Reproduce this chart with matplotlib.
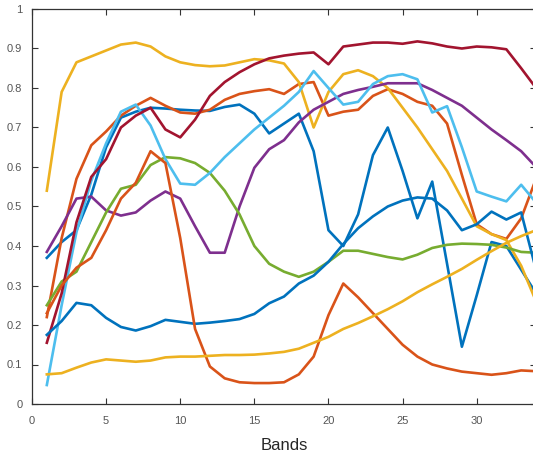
"""Spectral curves per band, MATLAB-style line plot."""

import matplotlib
matplotlib.use("Agg")
import matplotlib.pyplot as plt
import numpy as np

# ---------------------------------------------------------------------------
# Data
# ---------------------------------------------------------------------------

bands = list(range(1, 35))

blue_a = [0.37, 0.41, 0.44, 0.53, 0.65, 0.725, 0.74, 0.75, 0.748, 0.745,
          0.743, 0.742, 0.752, 0.758, 0.735, 0.685, 0.71, 0.735, 0.64, 0.44,
          0.40, 0.48, 0.63, 0.70, 0.59, 0.47, 0.563, 0.355, 0.145, 0.275,
          0.41, 0.40, 0.34, 0.28]
orange_a = [0.22, 0.42, 0.57, 0.655, 0.69, 0.73, 0.755, 0.775, 0.755, 0.738,
            0.735, 0.745, 0.77, 0.785, 0.792, 0.797, 0.785, 0.81, 0.815, 0.73,
            0.74, 0.745, 0.78, 0.797, 0.785, 0.765, 0.755, 0.71, 0.58, 0.455,
            0.43, 0.418, 0.47, 0.57]
yellow_a = [0.54, 0.79, 0.865, 0.88, 0.895, 0.91, 0.915, 0.905, 0.88, 0.865,
            0.858, 0.855, 0.857, 0.865, 0.873, 0.87, 0.862, 0.815, 0.70, 0.79,
            0.835, 0.845, 0.83, 0.80, 0.75, 0.70, 0.645, 0.59, 0.52, 0.45,
            0.43, 0.415, 0.35, 0.26]
purple = [0.385, 0.45, 0.52, 0.525, 0.49, 0.477, 0.485, 0.515, 0.538, 0.52,
          0.45, 0.383, 0.383, 0.50, 0.598, 0.645, 0.668, 0.713, 0.745, 0.765,
          0.785, 0.795, 0.803, 0.812, 0.812, 0.812, 0.795, 0.775, 0.755, 0.725,
          0.695, 0.668, 0.64, 0.60]
green = [0.25, 0.31, 0.335, 0.41, 0.485, 0.545, 0.555, 0.605, 0.625, 0.622,
         0.61, 0.585, 0.54, 0.48, 0.40, 0.355, 0.335, 0.322, 0.335, 0.36,
         0.388, 0.388, 0.38, 0.372, 0.366, 0.378, 0.395, 0.403, 0.406, 0.405,
         0.403, 0.396, 0.385, 0.383]
light_blue = [0.048, 0.25, 0.435, 0.565, 0.66, 0.74, 0.758, 0.705, 0.62, 0.558,
              0.555, 0.585, 0.625, 0.66, 0.695, 0.725, 0.755, 0.79, 0.843, 0.80,
              0.758, 0.765, 0.81, 0.83, 0.835, 0.822, 0.738, 0.754, 0.65, 0.538,
              0.525, 0.513, 0.555, 0.51]
dark_red = [0.155, 0.28, 0.46, 0.575, 0.62, 0.70, 0.73, 0.75, 0.695, 0.675,
            0.72, 0.78, 0.815, 0.84, 0.86, 0.875, 0.882, 0.887, 0.89, 0.86,
            0.905, 0.91, 0.915, 0.915, 0.912, 0.918, 0.913, 0.905, 0.90, 0.905,
            0.903, 0.898, 0.85, 0.80]
blue_b = [0.175, 0.21, 0.256, 0.25, 0.218, 0.195, 0.186, 0.197, 0.213, 0.208,
          0.203, 0.206, 0.21, 0.215, 0.228, 0.255, 0.272, 0.305, 0.325, 0.36,
          0.405, 0.445, 0.475, 0.50, 0.515, 0.523, 0.52, 0.49, 0.44, 0.455,
          0.487, 0.467, 0.485, 0.34]
orange_b = [0.23, 0.30, 0.345, 0.37, 0.44, 0.52, 0.56, 0.64, 0.61, 0.42,
            0.19, 0.095, 0.065, 0.055, 0.053, 0.053, 0.055, 0.075, 0.12, 0.225,
            0.305, 0.27, 0.23, 0.19, 0.15, 0.12, 0.10, 0.09, 0.082, 0.078,
            0.074, 0.078, 0.085, 0.083]
yellow_b = [0.075, 0.078, 0.092, 0.105, 0.113, 0.11, 0.107, 0.11, 0.118, 0.12,
            0.12, 0.122, 0.124, 0.124, 0.125, 0.128, 0.132, 0.14, 0.155, 0.17,
            0.19, 0.205, 0.222, 0.24, 0.26, 0.283, 0.303, 0.322, 0.342, 0.365,
            0.387, 0.408, 0.425, 0.44]

series = [blue_a, orange_a, yellow_a, purple, green, light_blue, dark_red,
          blue_b, orange_b, yellow_b]

# MATLAB default colour order
colors = ["#0072BD", "#D95319", "#EDB120", "#7E2F8E", "#77AC30",
          "#4DBEEE", "#A2142F"]

# ---------------------------------------------------------------------------
# Plot
# ---------------------------------------------------------------------------

plt.rcParams["font.family"] = ["Liberation Sans", "DejaVu Sans"]

fig = plt.figure(figsize=(5.33, 4.57), dpi=100)
ax = fig.add_axes([32 / 533, 53 / 457, 504 / 533, 395 / 457])

for i, ys in enumerate(series):
    ax.plot(bands, ys, color=colors[i % len(colors)], lw=1.9)

ax.set_xlim(0, 34)
ax.set_ylim(0, 1)
ax.set_xticks(np.arange(0, 35, 5))
ax.set_yticks(np.arange(0, 1.01, 0.1))
ax.set_yticklabels(["0", "0.1", "0.2", "0.3", "0.4", "0.5", "0.6", "0.7",
                    "0.8", "0.9", "1"])

ax.tick_params(direction="in", length=4, width=0.8, top=True, right=True,
               labelsize=8, labelcolor="#555555", color="#333333")
ax.tick_params(axis="x", pad=9)
ax.tick_params(axis="y", pad=7)
for sp in ax.spines.values():
    sp.set_color("#333333")
    sp.set_linewidth(0.9)

ax.set_xlabel("Bands", fontsize=12, color="#262626", labelpad=8)

fig.savefig("out.png", dpi=100)
